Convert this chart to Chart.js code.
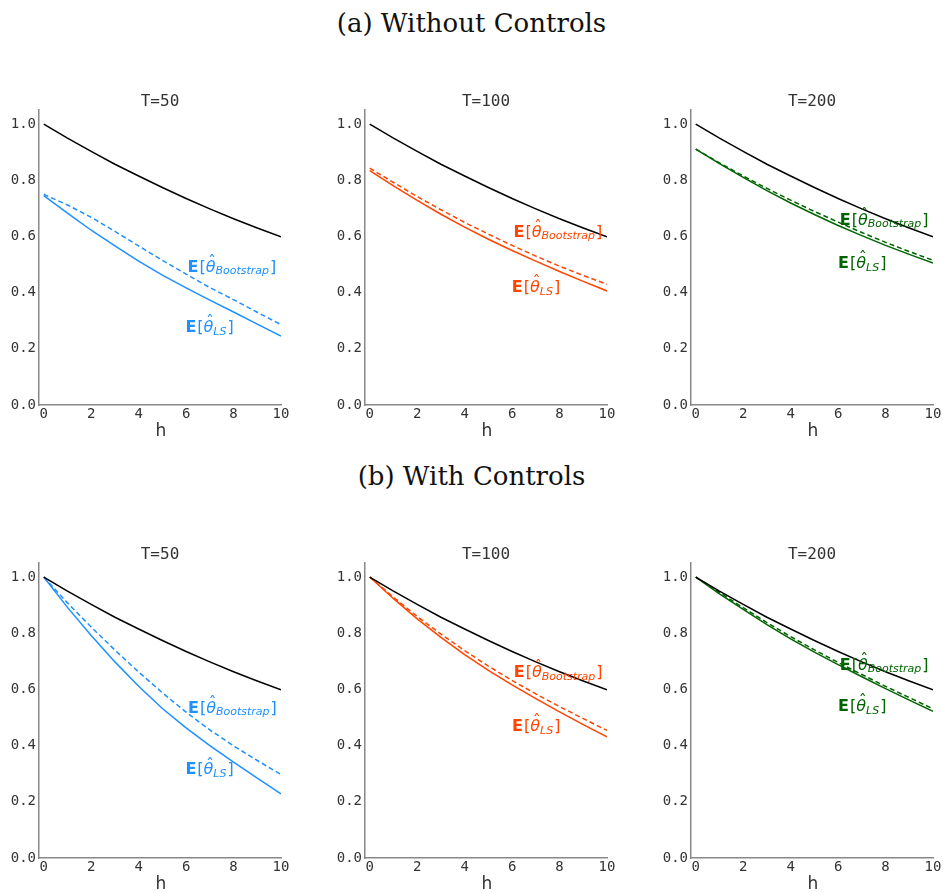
<!DOCTYPE html>
<html>
<head>
<meta charset="utf-8">
<script src="https://cdn.jsdelivr.net/npm/chart.js@4.4.1/dist/chart.umd.min.js"></script>
<style>
  html, body { margin: 0; padding: 0; background: #fff; overflow: hidden; }
  body { width: 943px; height: 893px; position: relative; }
  .row-title { position: absolute; left: 0; width: 943px; text-align: center;
    font-family: "DejaVu Serif", serif; font-size: 26px; line-height: 30px; color: #111; }
  .panel { position: absolute; }
</style>
</head>
<body>
<div class="row-title" style="top:8px">(a) Without Controls</div>
<div class="row-title" style="top:461px">(b) With Controls</div>

<canvas class="panel" id="a50"  width="296" height="365" style="left:-1px;top:80px"></canvas>
<canvas class="panel" id="a100" width="296" height="365" style="left:325px;top:80px"></canvas>
<canvas class="panel" id="a200" width="296" height="365" style="left:651px;top:80px"></canvas>
<canvas class="panel" id="b50"  width="296" height="365" style="left:-1px;top:533px"></canvas>
<canvas class="panel" id="b100" width="296" height="365" style="left:325px;top:533px"></canvas>
<canvas class="panel" id="b200" width="296" height="365" style="left:651px;top:533px"></canvas>

<script>
// horizons and axis ticks
const horizons = [0, 1, 2, 3, 4, 5, 6, 7, 8, 9, 10];
const xTicks = [0, 2, 4, 6, 8, 10];
const yTicks = [0.0, 0.2, 0.4, 0.6, 0.8, 1.0];

// true impulse response (black line, same in every panel)
const trueIrf = [1.000, 0.950, 0.903, 0.857, 0.815, 0.774, 0.735, 0.698, 0.663, 0.630, 0.599];

// (a) without controls
const lsNoCtrlT50    = [0.745, 0.683, 0.622, 0.566, 0.512, 0.462, 0.417, 0.373, 0.331, 0.288, 0.245];
const bootNoCtrlT50  = [0.750, 0.712, 0.668, 0.618, 0.566, 0.515, 0.466, 0.418, 0.375, 0.330, 0.286];
const lsNoCtrlT100   = [0.834, 0.780, 0.728, 0.679, 0.633, 0.590, 0.550, 0.512, 0.475, 0.440, 0.406];
const bootNoCtrlT100 = [0.843, 0.792, 0.742, 0.695, 0.650, 0.608, 0.568, 0.530, 0.494, 0.461, 0.430];
const lsNoCtrlT200   = [0.911, 0.859, 0.810, 0.763, 0.719, 0.678, 0.639, 0.603, 0.568, 0.536, 0.505];
const bootNoCtrlT200 = [0.911, 0.862, 0.815, 0.771, 0.729, 0.689, 0.651, 0.614, 0.579, 0.546, 0.515];

// (b) with controls
const lsCtrlT50    = [1.000, 0.892, 0.792, 0.698, 0.611, 0.532, 0.463, 0.400, 0.341, 0.284, 0.228];
const bootCtrlT50  = [1.000, 0.908, 0.822, 0.740, 0.662, 0.588, 0.519, 0.456, 0.399, 0.347, 0.297];
const lsCtrlT100   = [1.000, 0.923, 0.851, 0.785, 0.724, 0.668, 0.616, 0.567, 0.520, 0.475, 0.431];
const bootCtrlT100 = [1.000, 0.928, 0.860, 0.797, 0.738, 0.683, 0.632, 0.584, 0.539, 0.496, 0.454];
const lsCtrlT200   = [1.000, 0.940, 0.885, 0.831, 0.780, 0.733, 0.688, 0.645, 0.603, 0.562, 0.522];
const bootCtrlT200 = [1.000, 0.945, 0.891, 0.838, 0.788, 0.741, 0.696, 0.653, 0.611, 0.571, 0.531];

const BLUE = '#1E90FF', RED = '#FF4500', GREEN = '#006400';

// label anchors are [h, value] of the left edge / middle of the bold E
const panels = [
  { id: 'a50',  title: 'T=50',  color: BLUE,  ls: lsNoCtrlT50,  boot: bootNoCtrlT50,  bootAt: [6.06, 0.495], lsAt: [5.97, 0.280] },
  { id: 'a100', title: 'T=100', color: RED,   ls: lsNoCtrlT100, boot: bootNoCtrlT100, bootAt: [6.06, 0.619], lsAt: [5.99, 0.422] },
  { id: 'a200', title: 'T=200', color: GREEN, ls: lsNoCtrlT200, boot: bootNoCtrlT200, bootAt: [6.07, 0.663], lsAt: [6.00, 0.508] },
  { id: 'b50',  title: 'T=50',  color: BLUE,  ls: lsCtrlT50,    boot: bootCtrlT50,    bootAt: [6.08, 0.537], lsAt: [5.97, 0.318] },
  { id: 'b100', title: 'T=100', color: RED,   ls: lsCtrlT100,   boot: bootCtrlT100,   bootAt: [6.07, 0.664], lsAt: [6.00, 0.472] },
  { id: 'b200', title: 'T=200', color: GREEN, ls: lsCtrlT200,   boot: bootCtrlT200,   bootAt: [6.07, 0.690], lsAt: [6.00, 0.543] }
];

const toPoints = ys => horizons.map((h, i) => ({ x: h, y: ys[i] }));

// E[theta-hat_sub] drawn piece by piece
function drawEstimateLabel(ctx, x, yMid, sub, color) {
  const size = 16;
  const base = yMid + size * 0.365;
  let cx = x;
  ctx.save();
  ctx.fillStyle = color;
  ctx.textBaseline = 'alphabetic';
  ctx.textAlign = 'left';
  ctx.font = `bold ${size}px "DejaVu Sans"`;
  ctx.fillText('E', cx, base); cx += ctx.measureText('E').width + 1;
  ctx.font = `${size}px "DejaVu Sans"`;
  ctx.fillText('[', cx, base); cx += ctx.measureText('[').width;
  ctx.font = `italic ${size}px "DejaVu Sans"`;
  const thW = ctx.measureText('θ').width;
  ctx.fillText('θ', cx, base);
  ctx.font = `${size}px "DejaVu Sans"`;
  ctx.textAlign = 'center';
  ctx.fillText('ˆ', cx + thW / 2 + 1.5, base - size * 0.3);
  ctx.textAlign = 'left';
  cx += thW;
  ctx.font = `italic ${Math.round(size * 0.7)}px "DejaVu Sans"`;
  ctx.fillText(sub, cx, base + size * 0.15); cx += ctx.measureText(sub).width + 1;
  ctx.font = `${size}px "DejaVu Sans"`;
  ctx.fillText(']', cx, base);
  ctx.restore();
}

const panelText = {
  id: 'panelText',
  afterDraw(chart, args, opts) {
    const { ctx, chartArea, scales } = chart;
    ctx.save();
    ctx.fillStyle = '#333';
    ctx.textAlign = 'center';
    ctx.textBaseline = 'alphabetic';
    ctx.font = '16px "DejaVu Sans Mono"';
    ctx.fillText(opts.title, (chartArea.left + chartArea.right) / 2, chartArea.top - 4);
    ctx.font = '17px "DejaVu Sans"';
    ctx.fillText('h', (chartArea.left + chartArea.right) / 2 + 1, chartArea.bottom + 31);
    ctx.restore();
    drawEstimateLabel(ctx, scales.x.getPixelForValue(opts.bootAt[0]), scales.y.getPixelForValue(opts.bootAt[1]), 'Bootstrap', opts.color);
    drawEstimateLabel(ctx, scales.x.getPixelForValue(opts.lsAt[0]), scales.y.getPixelForValue(opts.lsAt[1]), 'LS', opts.color);
  }
};

const tickFont = { family: '"DejaVu Sans Mono"', size: 14 };
const axisBorder = { display: true, color: '#888', width: 1.5 };

panels.forEach(p => {
  new Chart(document.getElementById(p.id), {
    type: 'line',
    data: {
      datasets: [
        { data: toPoints(trueIrf), borderColor: '#000', borderWidth: 1.5 },
        { data: toPoints(p.boot), borderColor: p.color, borderWidth: 1.5, borderDash: [5, 3] },
        { data: toPoints(p.ls), borderColor: p.color, borderWidth: 1.5 }
      ]
    },
    options: {
      responsive: false,
      animation: false,
      devicePixelRatio: 1,
      layout: { padding: { top: 30, right: 14, left: 0, bottom: 0 } },
      elements: { point: { radius: 0 }, line: { tension: 0, fill: false } },
      plugins: {
        legend: { display: false },
        tooltip: { enabled: false },
        panelText: { title: p.title, color: p.color, bootAt: p.bootAt, lsAt: p.lsAt }
      },
      scales: {
        x: {
          type: 'linear', min: -0.2, max: 10,
          afterBuildTicks: s => { s.ticks = xTicks.map(v => ({ value: v })); },
          afterFit: s => { s.height = 40; },
          grid: { display: false, drawTicks: false, tickLength: 0 },
          border: axisBorder,
          ticks: { font: tickFont, color: '#333', padding: 1, maxRotation: 0, autoSkip: false }
        },
        y: {
          type: 'linear', min: 0, max: 1.05,
          afterBuildTicks: s => { s.ticks = yTicks.map(v => ({ value: v })); },
          afterFit: s => { s.width = 40; },
          grid: { display: false, drawTicks: false, tickLength: 0 },
          border: axisBorder,
          ticks: { font: tickFont, color: '#333', padding: 3, callback: v => v.toFixed(1) }
        }
      }
    },
    plugins: [panelText]
  });
});
</script>
</body>
</html>
